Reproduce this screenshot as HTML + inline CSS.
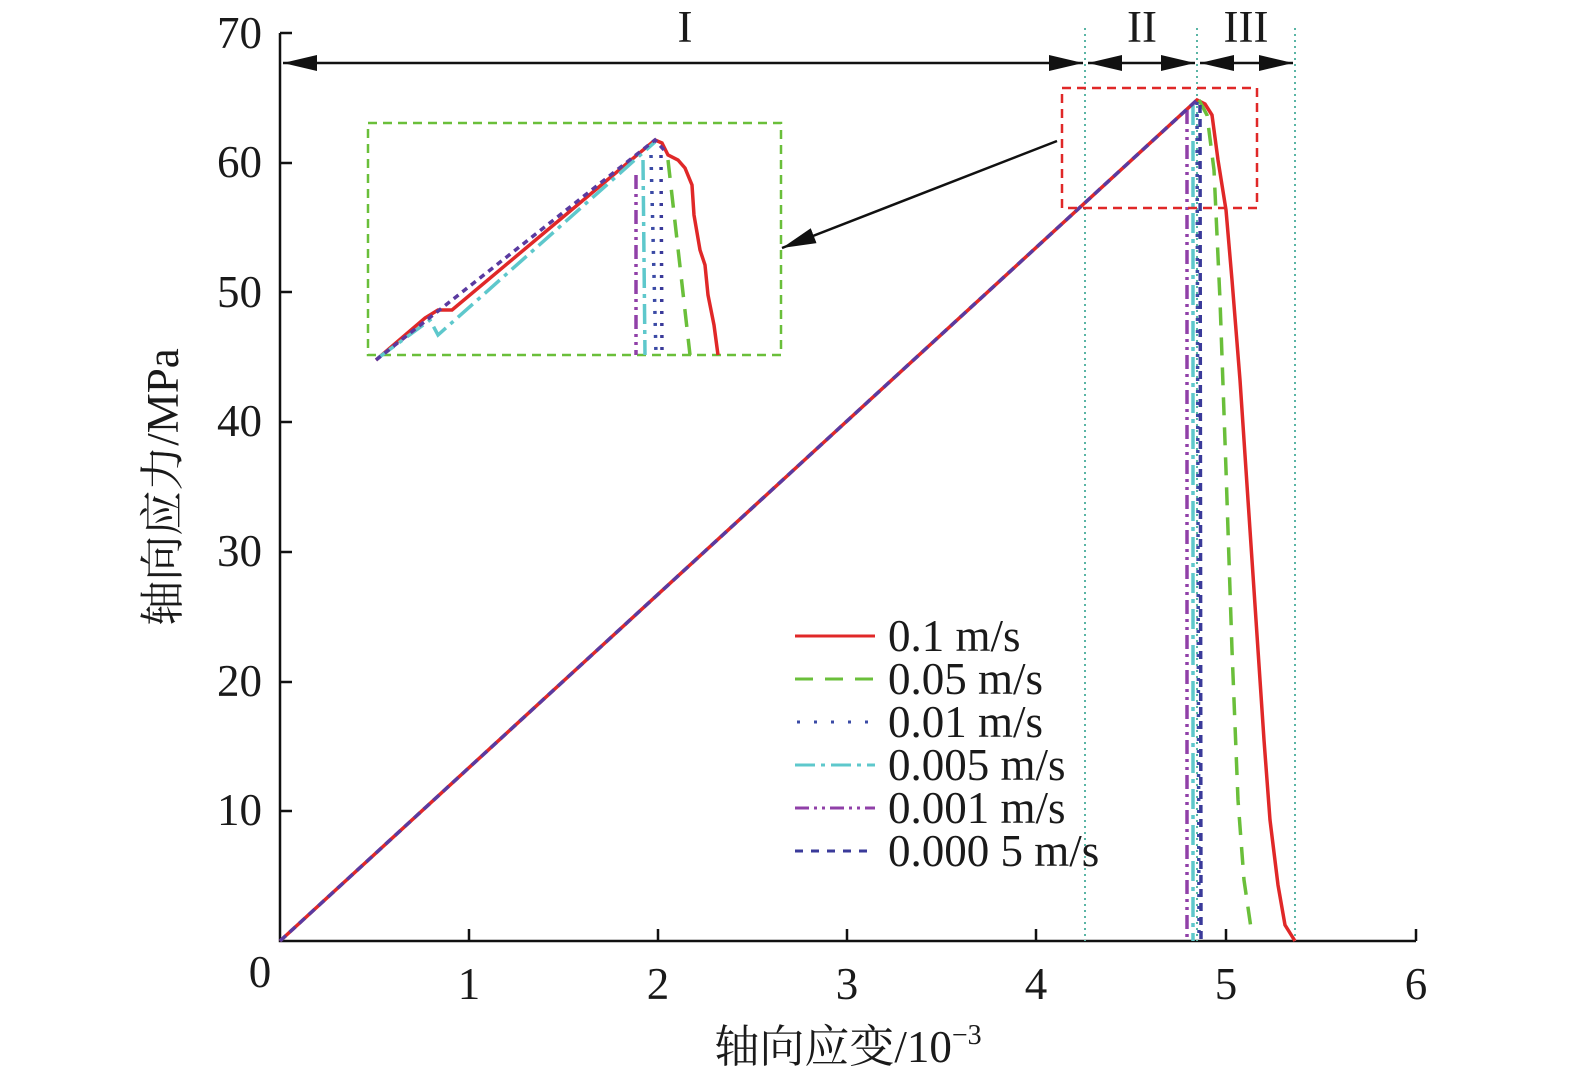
<!DOCTYPE html>
<html><head><meta charset="utf-8"><style>
html,body{margin:0;padding:0;background:#fff}
svg text{font-family:"Liberation Serif","Noto Serif CJK SC",serif;fill:#1a1a1a}
</style></head><body>
<svg width="1575" height="1084" xmlns="http://www.w3.org/2000/svg">
<defs>
<marker id="ab" markerWidth="34" markerHeight="20" refX="34" refY="10" orient="auto-start-reverse" markerUnits="userSpaceOnUse" viewBox="0 0 34 20">
<path d="M0,2 L34,10 L0,18 z" fill="#111"/></marker>
</defs>
<g stroke="#111" stroke-width="2.5" fill="none">
<path d="M280,33 L280,941 L1416,941"/>
<path d="M280,33 h12 M280,163 h12 M280,292 h12 M280,422 h12 M280,552 h12 M280,682 h12 M280,811 h12"/>
<path d="M469,941 v-12 M658,941 v-12 M847,941 v-12 M1036,941 v-12 M1226,941 v-12 M1416,941 v-12"/>
</g>
<g font-size="45" text-anchor="end">
<text x="262" y="48">70</text><text x="262" y="177">60</text><text x="262" y="307">50</text>
<text x="262" y="436">40</text><text x="262" y="566">30</text><text x="262" y="696">20</text><text x="262" y="825">10</text>
</g>
<g font-size="45" text-anchor="middle">
<text x="260" y="987">0</text><text x="469" y="999">1</text><text x="658" y="999">2</text><text x="847" y="999">3</text>
<text x="1036" y="999">4</text><text x="1226" y="999">5</text><text x="1416" y="999">6</text>
</g>
<text x="848" y="1062" font-size="45" text-anchor="middle">轴向应变/10<tspan font-size="28" dy="-18">−3</tspan></text>
<text transform="translate(178,487) rotate(-90)" font-size="45" text-anchor="middle">轴向应力/MPa</text>

<g stroke="#5ab5a5" stroke-width="2" stroke-dasharray="2,4">
<path d="M1085,28 V941 M1197,28 V941 M1295,28 V941"/>
</g>
<g stroke="#111" stroke-width="2.5" marker-start="url(#ab)" marker-end="url(#ab)">
<path d="M283,63 H1083"/><path d="M1088,63 H1195"/><path d="M1200,63 H1293"/>
</g>
<g font-size="45" text-anchor="middle"><text x="685" y="42">I</text><text x="1142" y="42">II</text><text x="1246" y="42">III</text></g>

<g fill="none" stroke-width="3.5">
<path d="M280,941 L1197,100 L1205,104 L1212,115 L1218,160 L1226,210 L1232,280 L1240,380 L1246,470 L1252,560 L1258,650 L1264,740 L1270,820 L1278,885 L1285,925 L1295,941" stroke="#e02828"/>
<path d="M1199,100 L1207,115 L1214,170 L1220,300 L1226,470 L1232,650 L1238,800 L1244,880 L1252,935" stroke="#6abf3a" stroke-dasharray="18,12"/>
<path d="M1197,102 L1199,941" stroke="#3a4aa5" stroke-dasharray="3,9"/>
<path d="M1193,105 L1193,941" stroke="#5ec8cc" stroke-dasharray="20,6,4,6"/>
<path d="M1187,110 L1187,941" stroke="#9040a8" stroke-dasharray="14,5,3,5,3,5"/>
<path d="M1200,105 L1201,941" stroke="#3a3a9a" stroke-dasharray="8,6"/>
<path d="M280,941 L1197,100" stroke="#5a3aa0" stroke-dasharray="8,5"/>
</g>
<rect x="1062" y="88" width="195" height="120" fill="none" stroke="#e02828" stroke-width="2.5" stroke-dasharray="9,6"/>
<rect x="368" y="123" width="413" height="232" fill="none" stroke="#6abf3a" stroke-width="2.5" stroke-dasharray="9,6"/>
<path d="M1057,141 L782,248" stroke="#111" stroke-width="2.5" marker-end="url(#ab)"/>
<g fill="none" stroke-width="3.5">
<path d="M376,360 L425,318 L438,310 L452,310 L655,140 L662,143 L668,155 L678,160 L685,168 L692,185 L694,215 L700,250 L705,265 L708,295 L714,325 L718,355" stroke="#e02828"/>
<path d="M378,358 L430,320 L438,335 L655,142" stroke="#5ec8cc" stroke-dasharray="20,6,4,6"/>
<path d="M376,360 L655,140 L664,150" stroke="#5a3aa0" stroke-dasharray="6,5"/>
<path d="M668,160 L690,355" stroke="#6abf3a" stroke-dasharray="18,12"/>
<path d="M643,160 L645,355" stroke="#5ec8cc" stroke-dasharray="20,6,4,6"/>
<path d="M636,175 L636,355" stroke="#9040a8" stroke-dasharray="14,5,3,5,3,5"/>
<path d="M651,155 L656,355" stroke="#3a4aa5" stroke-dasharray="3,9"/>
<path d="M661,155 L662,355" stroke="#3a3a9a" stroke-dasharray="3,9"/>
</g>
<g stroke-width="3" fill="none">
<path d="M795,636 H875" stroke="#e02828"/>
<path d="M795,679 H875" stroke="#6abf3a" stroke-dasharray="18,12"/>
<path d="M797,722 H875" stroke="#3a4aa5" stroke-dasharray="3,14"/>
<path d="M795,765 H875" stroke="#5ec8cc" stroke-dasharray="20,6,4,6"/>
<path d="M795,808 H875" stroke="#9040a8" stroke-dasharray="14,5,3,5,3,5"/>
<path d="M795,851 H875" stroke="#3a3a9a" stroke-dasharray="8,8"/>
</g>
<g font-size="45">
<text x="888" y="651">0.1 m/s</text><text x="888" y="694">0.05 m/s</text><text x="888" y="737">0.01 m/s</text>
<text x="888" y="780">0.005 m/s</text><text x="888" y="823">0.001 m/s</text><text x="888" y="866">0.000 5 m/s</text>
</g>
</svg>
</body></html>
